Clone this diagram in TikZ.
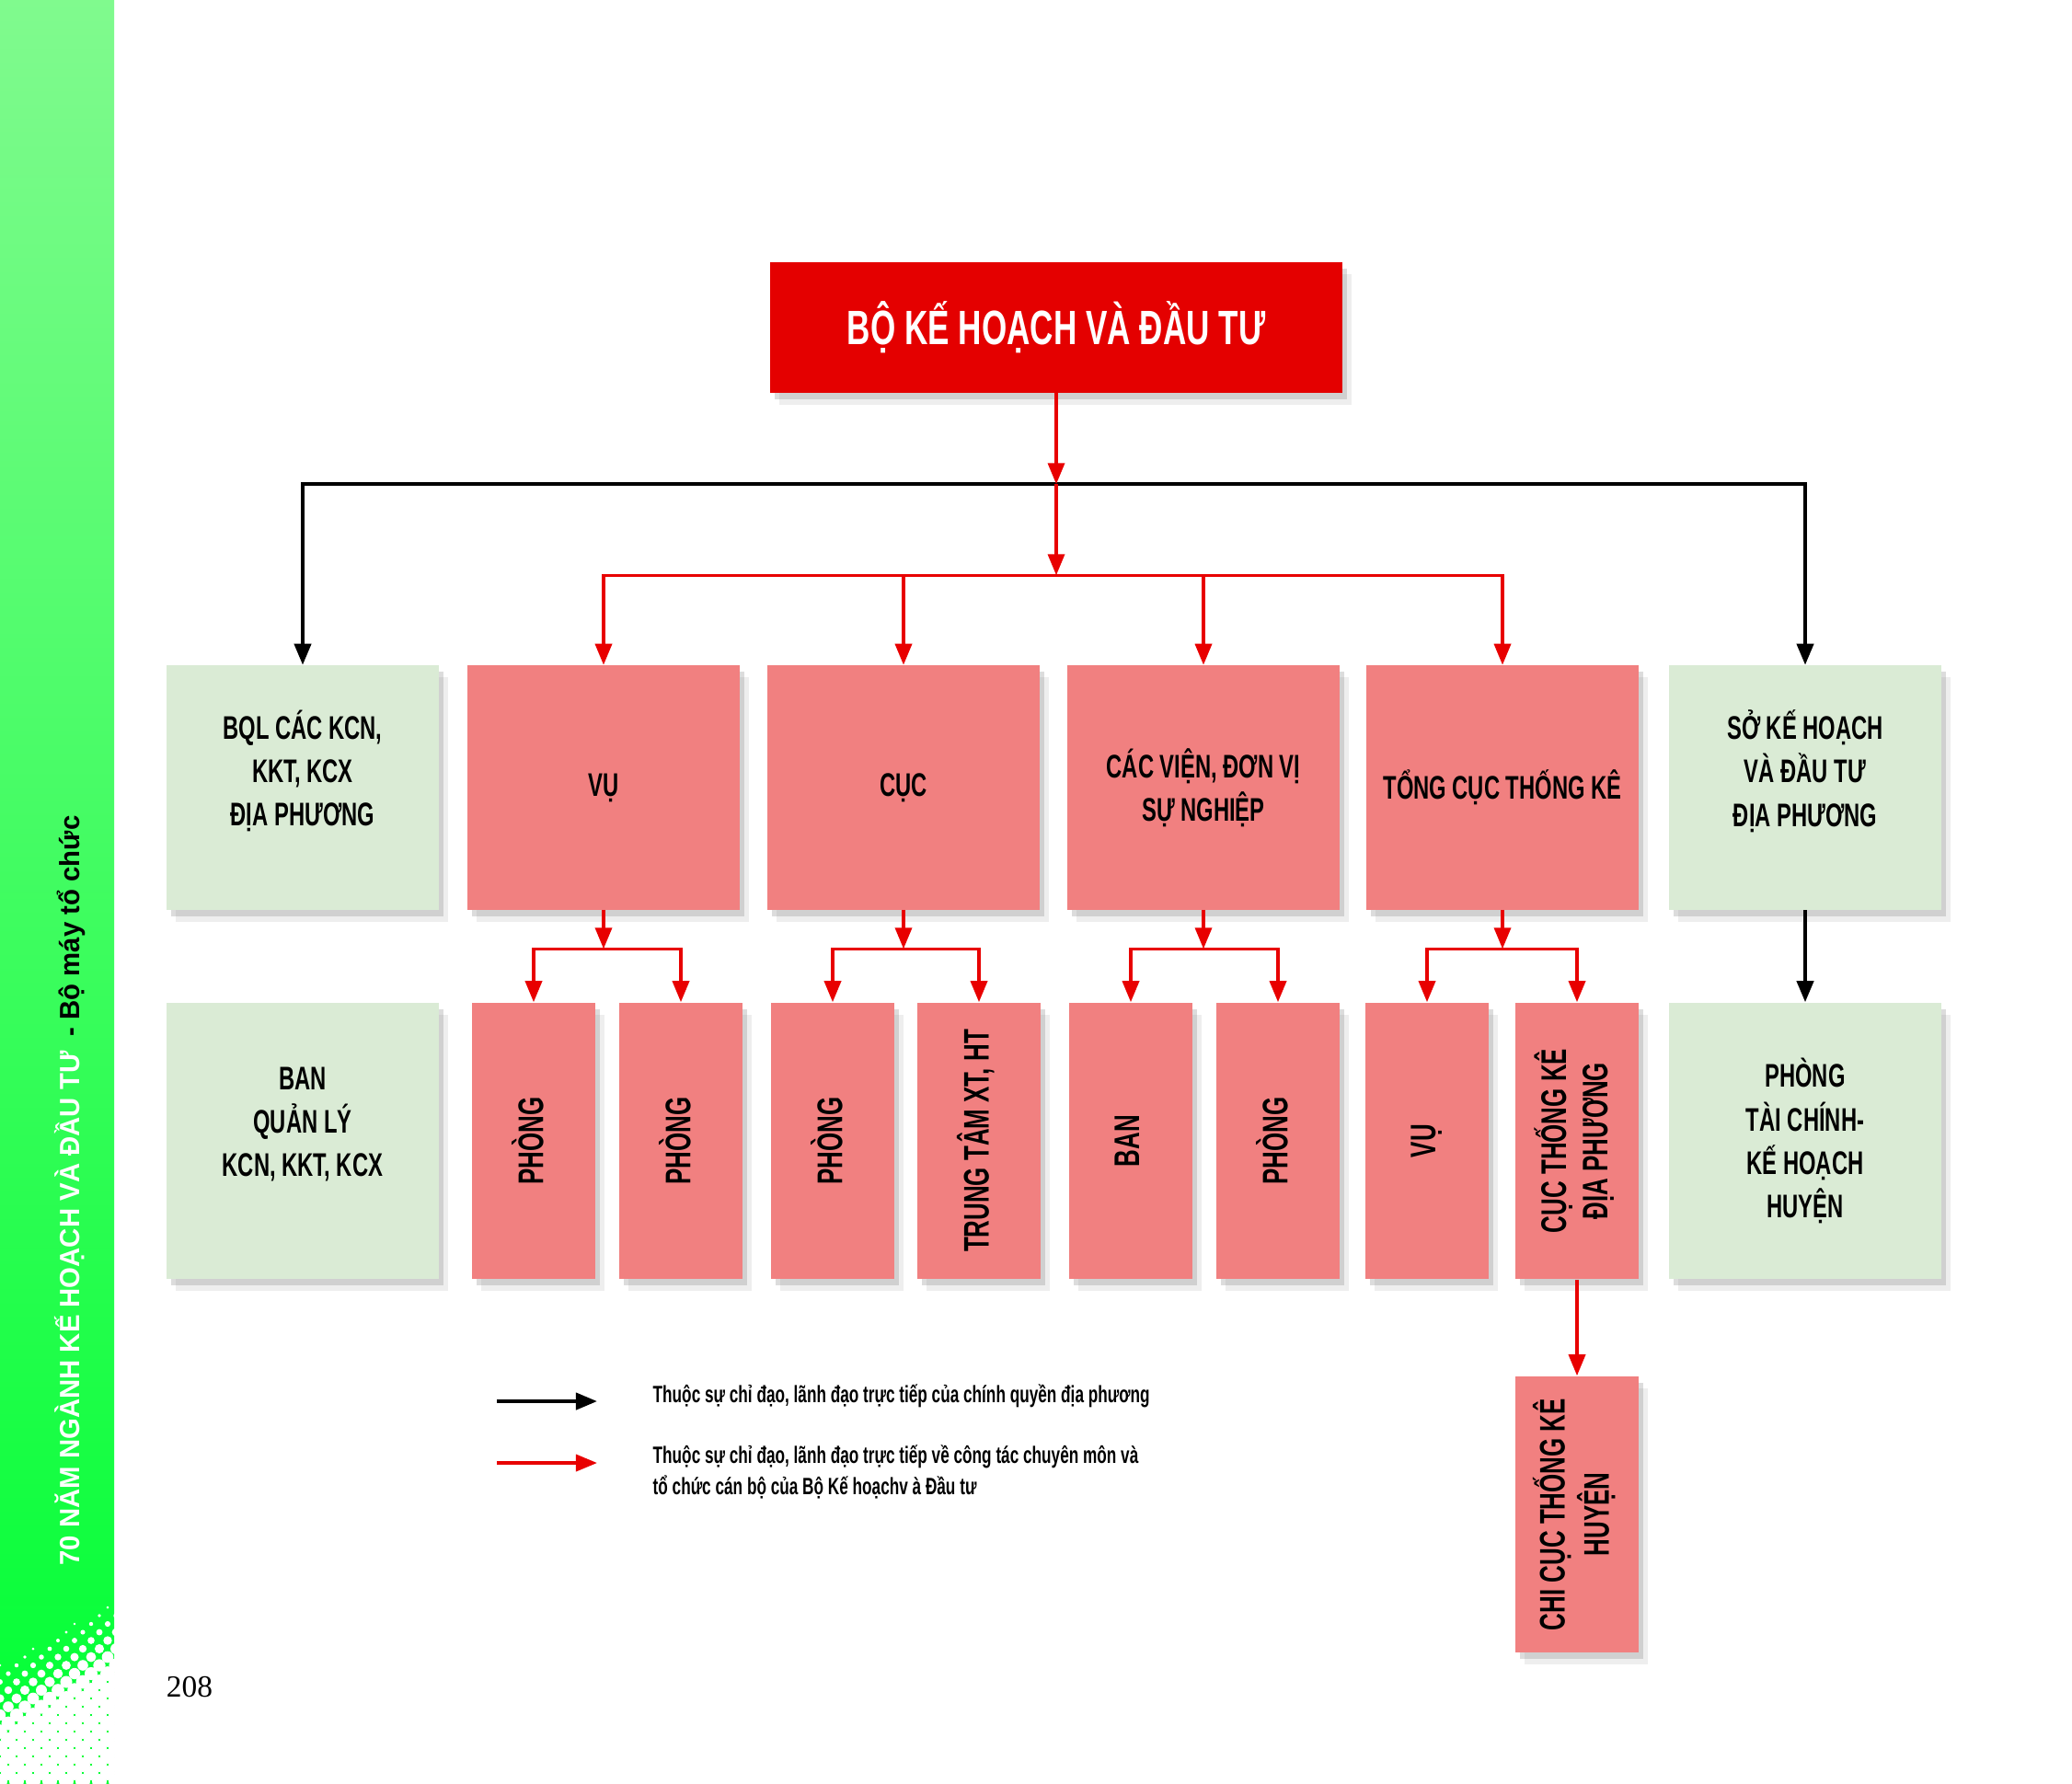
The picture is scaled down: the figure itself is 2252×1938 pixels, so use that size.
\documentclass[tikz,border=0pt]{standalone}
\usepackage{fontspec}
\setmainfont{Liberation Sans}[FakeStretch=0.67]
\newfontfamily\stripefont{Liberation Sans}[FakeStretch=0.97]
\newfontfamily\pagefont{Liberation Serif}
\usepackage{xcolor}
\usepackage{tikz}
\usetikzlibrary{arrows.meta,shadows}

\definecolor{topred}{RGB}{228,0,0}
\definecolor{linered}{RGB}{232,0,0}
\definecolor{pinkfill}{RGB}{241,128,128}
\definecolor{greenfill}{RGB}{218,235,213}
\definecolor{stripetop}{RGB}{128,250,142}
\definecolor{stripebot}{RGB}{0,255,51}

\newcommand{\vtext}[1]{\rotatebox{90}{\begin{tabular}{@{}c@{}}#1\end{tabular}}}

\tikzset{
  >={Triangle[length=0.23cm,width=0.18cm]},
  box/.style={align=center, inner sep=0pt, text=black,
    font=\bfseries\fontsize{10.1}{13.4}\selectfont,
    drop shadow={shadow xshift=0.05cm, shadow yshift=-0.07cm, opacity=0.3, fill=black!45},
    drop shadow={shadow xshift=0.1cm, shadow yshift=-0.13cm, opacity=0.15, fill=black!45}},
  pinkbox/.style={box, fill=pinkfill, minimum width=2.96cm, minimum height=2.65cm},
  greenbox/.style={box, fill=greenfill, minimum width=2.96cm, minimum height=2.65cm,
    text depth=0.42cm},
  tallbox/.style={box, fill=pinkfill, minimum width=1.33cm, minimum height=3.0cm,
    font=\bfseries\fontsize{11}{12.8}\selectfont},
  widebox/.style={box, fill=greenfill, minimum width=2.96cm, minimum height=3.0cm},
  topbox/.style={box, fill=topred, text=white, minimum width=6.22cm, minimum height=1.41cm,
    font=\bfseries\fontsize{14.9}{17}\selectfont},
  blackline/.style={line width=0.04cm, black, ->},
  redline/.style={line width=0.035cm, linered, ->},
  legendtext/.style={anchor=west, align=left, inner sep=0pt,
    font=\bfseries\fontsize{7.3}{9.7}\selectfont}
}

\begin{document}
\begin{tikzpicture}[x=0.01cm, y=-0.01cm]
\useasboundingbox (0,0) rectangle (2252,1938);

% Side stripe
\shade[top color=stripetop, bottom color=stripebot] (0,0) rectangle (124,1938);
\foreach \j in {0,...,22} {
  \foreach \i in {0,...,7} {
    \pgfmathsetmacro{\dx}{\i*18 + mod(\j,2)*9}
    \pgfmathsetmacro{\dy}{1738 + \j*9}
    \pgfmathsetmacro{\r}{max(0, min(8, 1 + (\dy - 1738 - (124-\dx)*0.55)*0.09))}
    \ifdim\r pt>1.2pt
      \fill[white] (\dx,\dy) circle[radius=\r];
    \fi
  }
}
\node[rotate=90, inner sep=0pt, font=\stripefont\bfseries\fontsize{8.6}{10}\selectfont] (stripetxt) at (76,1294)
  {\textcolor{white}{70 NĂM NGÀNH KẾ HOẠCH VÀ ĐẦU TƯ}\ \ - Bộ máy tổ chức};
\node[font=\pagefont\fontsize{9.5}{11}\selectfont] (pagenum) at (206,1834) {208};

% Top box
\node[topbox] (bkh) at (1148,356) {BỘ KẾ HOẠCH VÀ ĐẦU TƯ};

% First row
\foreach \name/\x/\txt/\sty in {
  bql/329/{BQL CÁC KCN,\\KKT, KCX\\ĐỊA PHƯƠNG}/greenbox,
  vu/656/{VỤ}/pinkbox,
  cuc/982/{CỤC}/pinkbox,
  vien/1308/{CÁC VIỆN, ĐƠN VỊ\\SỰ NGHIỆP}/pinkbox,
  tong/1633/{TỔNG CỤC THỐNG KÊ}/pinkbox,
  so/1962/{SỞ KẾ HOẠCH\\VÀ ĐẦU TƯ\\ĐỊA PHƯƠNG}/greenbox} {
  \node[\sty] (\name) at (\x,856) {\txt};
}

% Second row
\node[widebox, text depth=0.42cm] (banql) at (329,1240) {BAN\\QUẢN LÝ\\KCN, KKT, KCX};
\foreach \name/\x/\txt in {
  vuA/580/{PHÒNG}, vuB/740/{PHÒNG},
  cucA/905/{PHÒNG}, cucB/1064/{TRUNG TÂM XT, HT},
  vienA/1229/{BAN}, vienB/1389/{PHÒNG},
  tongA/1551/{VỤ}, tongB/1714/{CỤC THỐNG KÊ\\ĐỊA PHƯƠNG}} {
  \node[tallbox] (\name) at (\x,1240) {\vtext{\txt}};
}
\node[widebox] (phongtc) at (1962,1240) {PHÒNG\\TÀI CHÍNH-\\KẾ HOẠCH\\HUYỆN};
\node[tallbox] (chicuc) at (1714,1646) {\vtext{CHI CỤC THỐNG KÊ\\HUYỆN}};

% Connectors
\path (bkh.south) ++(0,99) coordinate (blackhub) ++(0,99) coordinate (redhub);
\draw[blackline] (blackhub) -| (bql);
\draw[blackline] (blackhub) -| (so);
\draw[redline] (bkh.south) -- (blackhub);
\draw[redline] (blackhub) -- (redhub);
\foreach \n in {vu,cuc,vien,tong}
  \draw[redline] (redhub) -| (\n);

\foreach \p/\a/\b in {vu/vuA/vuB, cuc/cucA/cucB, vien/vienA/vienB, tong/tongA/tongB} {
  \path (\p.south) ++(0,42) coordinate (\p-j);
  \draw[redline] (\p.south) -- (\p-j);
  \draw[redline] (\p-j) -| (\a);
  \draw[redline] (\p-j) -| (\b);
}
\draw[redline] (tongB) -- (chicuc);
\draw[blackline] (so) -- (phongtc);

% Legend
\coordinate (lgblackA) at (540,1523);
\coordinate (lgblackB) at (649,1523);
\coordinate (lgredA) at (540,1590);
\coordinate (lgredB) at (649,1590);
\draw[blackline] (lgblackA) -- (lgblackB);
\draw[redline] (lgredA) -- (lgredB);
\node[legendtext] (lgblack) at (709,1517) {Thuộc sự chỉ đạo, lãnh đạo trực tiếp của chính quyền địa phương};
\node[legendtext] (lgred) at (709,1600) {Thuộc sự chỉ đạo, lãnh đạo trực tiếp về công tác chuyên môn và\\tổ chức cán bộ của Bộ Kế hoạchv à Đầu tư};
\end{tikzpicture}
\end{document}
